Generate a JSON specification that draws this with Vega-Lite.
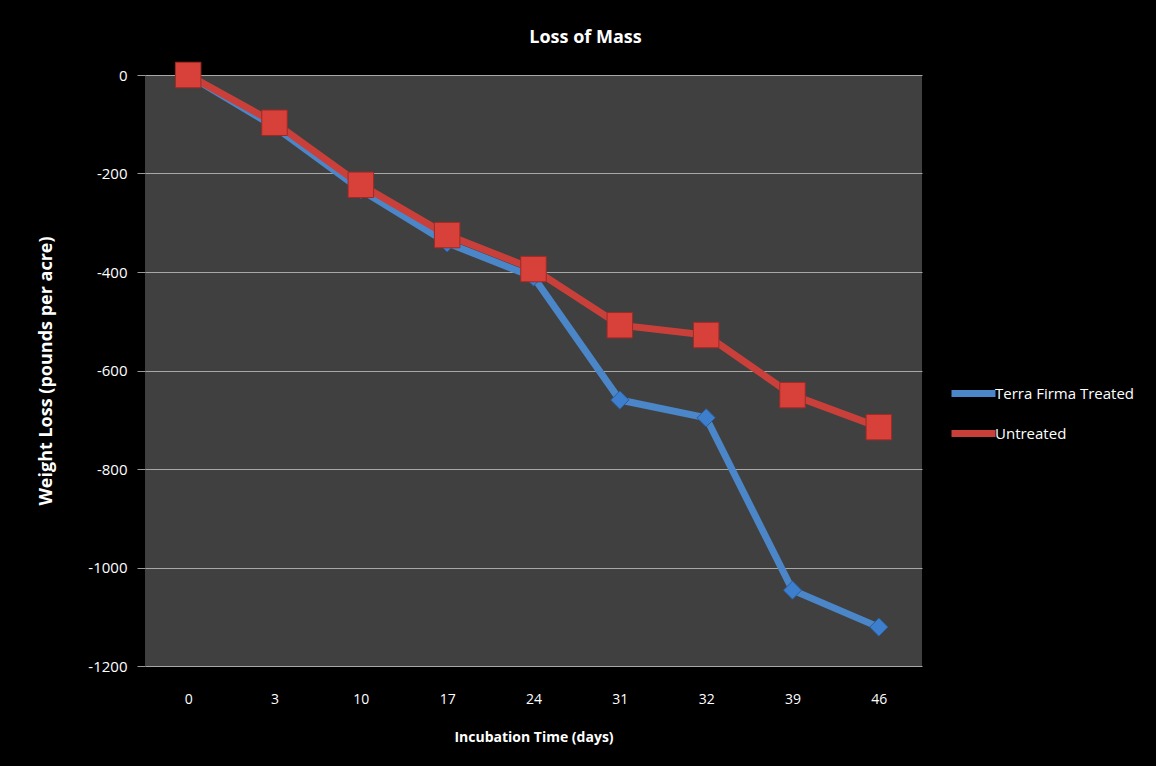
{
  "$schema": "https://vega.github.io/schema/vega-lite/v6.json",
  "autosize": {"type": "none"},
  "padding": {"left": 145, "top": 75, "right": 234, "bottom": 100},
  "width": 777,
  "height": 591,
  "background": "#000000",
  "config": {
    "font": "Open Sans",
    "view": {"fill": "#404040", "stroke": null}
  },
  "title": {
    "text": "Loss of Mass",
    "font": "Open Sans",
    "fontSize": 18,
    "fontWeight": "bold",
    "color": "#ffffff",
    "anchor": "middle",
    "dx": 52,
    "offset": 13
  },
  "data": {
    "values": [
      {"day": "0", "series": "Terra Firma Treated", "loss": 0},
      {"day": "3", "series": "Terra Firma Treated", "loss": -105},
      {"day": "10", "series": "Terra Firma Treated", "loss": -233},
      {"day": "17", "series": "Terra Firma Treated", "loss": -341},
      {"day": "24", "series": "Terra Firma Treated", "loss": -410},
      {"day": "31", "series": "Terra Firma Treated", "loss": -660},
      {"day": "32", "series": "Terra Firma Treated", "loss": -696},
      {"day": "39", "series": "Terra Firma Treated", "loss": -1046},
      {"day": "46", "series": "Terra Firma Treated", "loss": -1121},
      {"day": "0", "series": "Untreated", "loss": 0},
      {"day": "3", "series": "Untreated", "loss": -97},
      {"day": "10", "series": "Untreated", "loss": -223},
      {"day": "17", "series": "Untreated", "loss": -325},
      {"day": "24", "series": "Untreated", "loss": -394},
      {"day": "31", "series": "Untreated", "loss": -508},
      {"day": "32", "series": "Untreated", "loss": -528},
      {"day": "39", "series": "Untreated", "loss": -650},
      {"day": "46", "series": "Untreated", "loss": -715}
    ]
  },
  "encoding": {
    "x": {
      "field": "day",
      "type": "ordinal",
      "sort": null,
      "scale": {"type": "point", "padding": 0.5},
      "axis": {
        "title": "Incubation Time (days)",
        "titleColor": "#ffffff",
        "titleFontSize": 14,
        "titleFontWeight": "bold",
        "titlePadding": 24,
        "labelColor": "#ffffff",
        "labelFontSize": 14,
        "labelAngle": 0,
        "labelPadding": 26,
        "ticks": false,
        "domain": false,
        "grid": false
      }
    },
    "y": {
      "field": "loss",
      "type": "quantitative",
      "scale": {"domain": [-1200, 0], "nice": false},
      "axis": {
        "title": "Weight Loss (pounds per acre)",
        "titleColor": "#ffffff",
        "titleFontSize": 18,
        "titleFontWeight": "bold",
        "titlePadding": 32,
        "labelColor": "#ffffff",
        "labelFontSize": 15,
        "labelPadding": 10,
        "values": [0, -200, -400, -600, -800, -1000, -1200],
        "labelExpr": "'' + datum.value",
        "tickColor": "#9a9a9a",
        "tickSize": 8,
        "domain": false,
        "grid": true,
        "gridColor": "#a8a8a8",
        "gridWidth": 1.2,
        "gridOpacity": 1
      }
    }
  },
  "layer": [
    {
      "mark": {"type": "line", "strokeWidth": 7},
      "encoding": {
        "color": {
          "field": "series",
          "type": "nominal",
          "scale": {"domain": ["Terra Firma Treated", "Untreated"], "range": ["#4a86c8", "#c9403b"]},
          "legend": {
            "title": null,
            "orient": "none",
            "legendX": 803,
            "legendY": 293,
            "symbolType": "stroke",
            "symbolStrokeWidth": 7,
            "symbolSize": 1936,
            "labelColor": "#ffffff",
            "labelFontSize": 15,
            "rowPadding": -16,
            "labelOffset": -4
          }
        }
      }
    },
    {
      "transform": [{"filter": "datum.series === 'Terra Firma Treated'"}],
      "mark": {"type": "point", "filled": true, "opacity": 1, "shape": "diamond", "size": 330, "fill": "#3d7fcc", "stroke": "#2c5f9c", "strokeWidth": 1},
      "encoding": {}
    },
    {
      "transform": [{"filter": "datum.series === 'Untreated'"}],
      "mark": {"type": "point", "filled": true, "opacity": 1, "shape": "square", "size": 650, "fill": "#d8413a", "stroke": "#9e2a25", "strokeWidth": 1},
      "encoding": {}
    }
  ]
}
